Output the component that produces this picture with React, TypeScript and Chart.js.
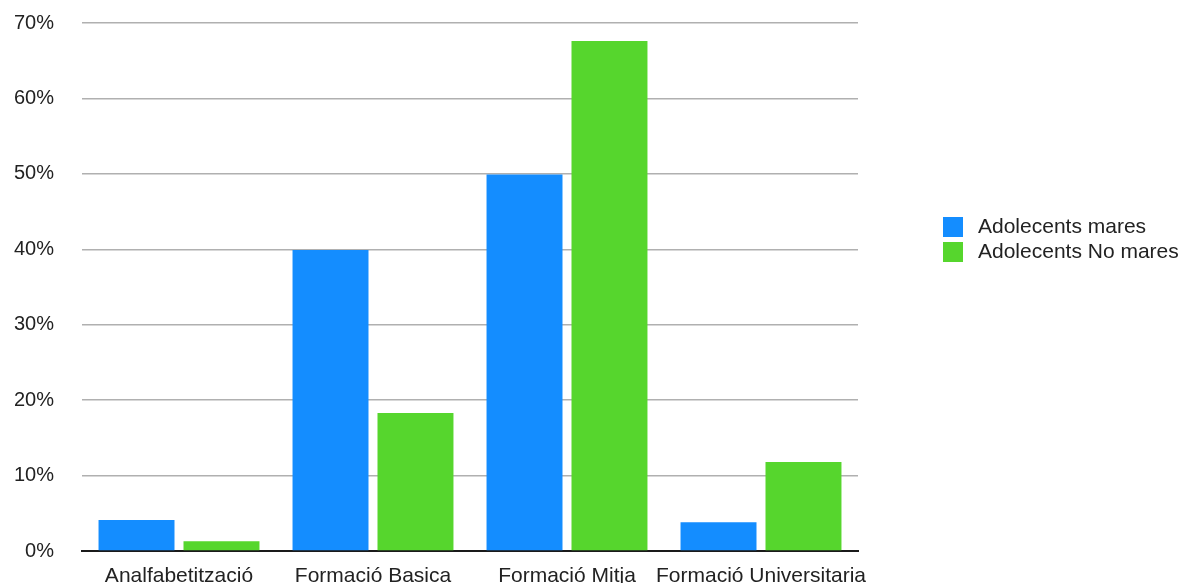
import React, { useEffect, useRef } from "react";
import { Chart, registerables } from "chart.js";

Chart.register(...registerables);

// Education level categories and the share of each group (percent)
const categories = [
  "Analfabetització",
  "Formació Basica",
  "Formació Mitja",
  "Formació Universitaria",
];
const seriesNames = ["Adolecents mares", "Adolecents No mares"];
const adolecentsMares = [4.1, 39.9, 49.9, 3.8];
const adolecentsNoMares = [1.3, 18.3, 67.6, 11.8];
const yTicks = [0, 10, 20, 30, 40, 50, 60, 70];

const BLUE = "#148DFF";
const GREEN = "#56D62D";
const FONT = "'Liberation Sans', Arial, Helvetica, sans-serif";

// Draws a simple square-swatch legend to the right of the plot area
const sideLegend = {
  id: "sideLegend",
  afterDraw(chart: any) {
    const { ctx, chartArea } = chart;
    const x0 = chartArea.right + 85;
    const y0 = 217;
    ctx.save();
    ctx.font = `21px ${FONT}`;
    ctx.textBaseline = "middle";
    ctx.textAlign = "left";
    chart.data.datasets.forEach((ds: any, i: number) => {
      const y = y0 + i * 25;
      ctx.fillStyle = ds.backgroundColor;
      ctx.fillRect(x0, y, 20, 20);
      ctx.fillStyle = "#222";
      ctx.fillText(ds.label, x0 + 35, y + 10.5);
    });
    ctx.restore();
  },
};

export default function App() {
  const canvasRef = useRef<HTMLCanvasElement | null>(null);

  useEffect(() => {
    document.body.style.margin = "0";
    const canvas = canvasRef.current;
    if (!canvas) return;
    const chart = new Chart(canvas, {
      type: "bar",
      data: {
        labels: categories,
        datasets: [
          {
            label: seriesNames[0],
            data: adolecentsMares,
            backgroundColor: BLUE,
            categoryPercentage: 0.876,
            barPercentage: 0.894,
          },
          {
            label: seriesNames[1],
            data: adolecentsNoMares,
            backgroundColor: GREEN,
            categoryPercentage: 0.876,
            barPercentage: 0.894,
          },
        ],
      },
      options: {
        animation: false,
        responsive: false,
        maintainAspectRatio: false,
        layout: { padding: { left: 8, right: 326, top: 23, bottom: 0 } },
        plugins: {
          legend: { display: false },
          tooltip: { enabled: false },
        },
        scales: {
          x: {
            grid: { display: false, drawTicks: false },
            border: { display: true, color: "#1a1a1a", width: 2 },
            ticks: {
              color: "#222",
              font: { family: FONT, size: 21 },
              padding: 13,
              maxRotation: 0,
              autoSkip: false,
            },
            afterFit: (s: any) => {
              s.height = 32;
            },
          },
          y: {
            min: 0,
            max: 70,
            afterBuildTicks: (s: any) => {
              s.ticks = yTicks.map((v) => ({ value: v }));
            },
            grid: {
              color: "#b0b0b0",
              lineWidth: 1.5,
              drawTicks: true,
              tickLength: 26,
              tickColor: "rgba(0,0,0,0)",
            },
            border: { display: false },
            ticks: {
              color: "#222",
              font: { family: FONT, size: 20 },
              padding: 2,
              callback: (v: any) => `${v}%`,
            },
            afterFit: (s: any) => {
              s.width = 74;
            },
          },
        },
      },
      plugins: [sideLegend],
    });
    return () => chart.destroy();
  }, []);

  return (
    <div style={{ width: 1184, height: 583, background: "#fff" }}>
      <canvas ref={canvasRef} width={1184} height={583} />
    </div>
  );
}
